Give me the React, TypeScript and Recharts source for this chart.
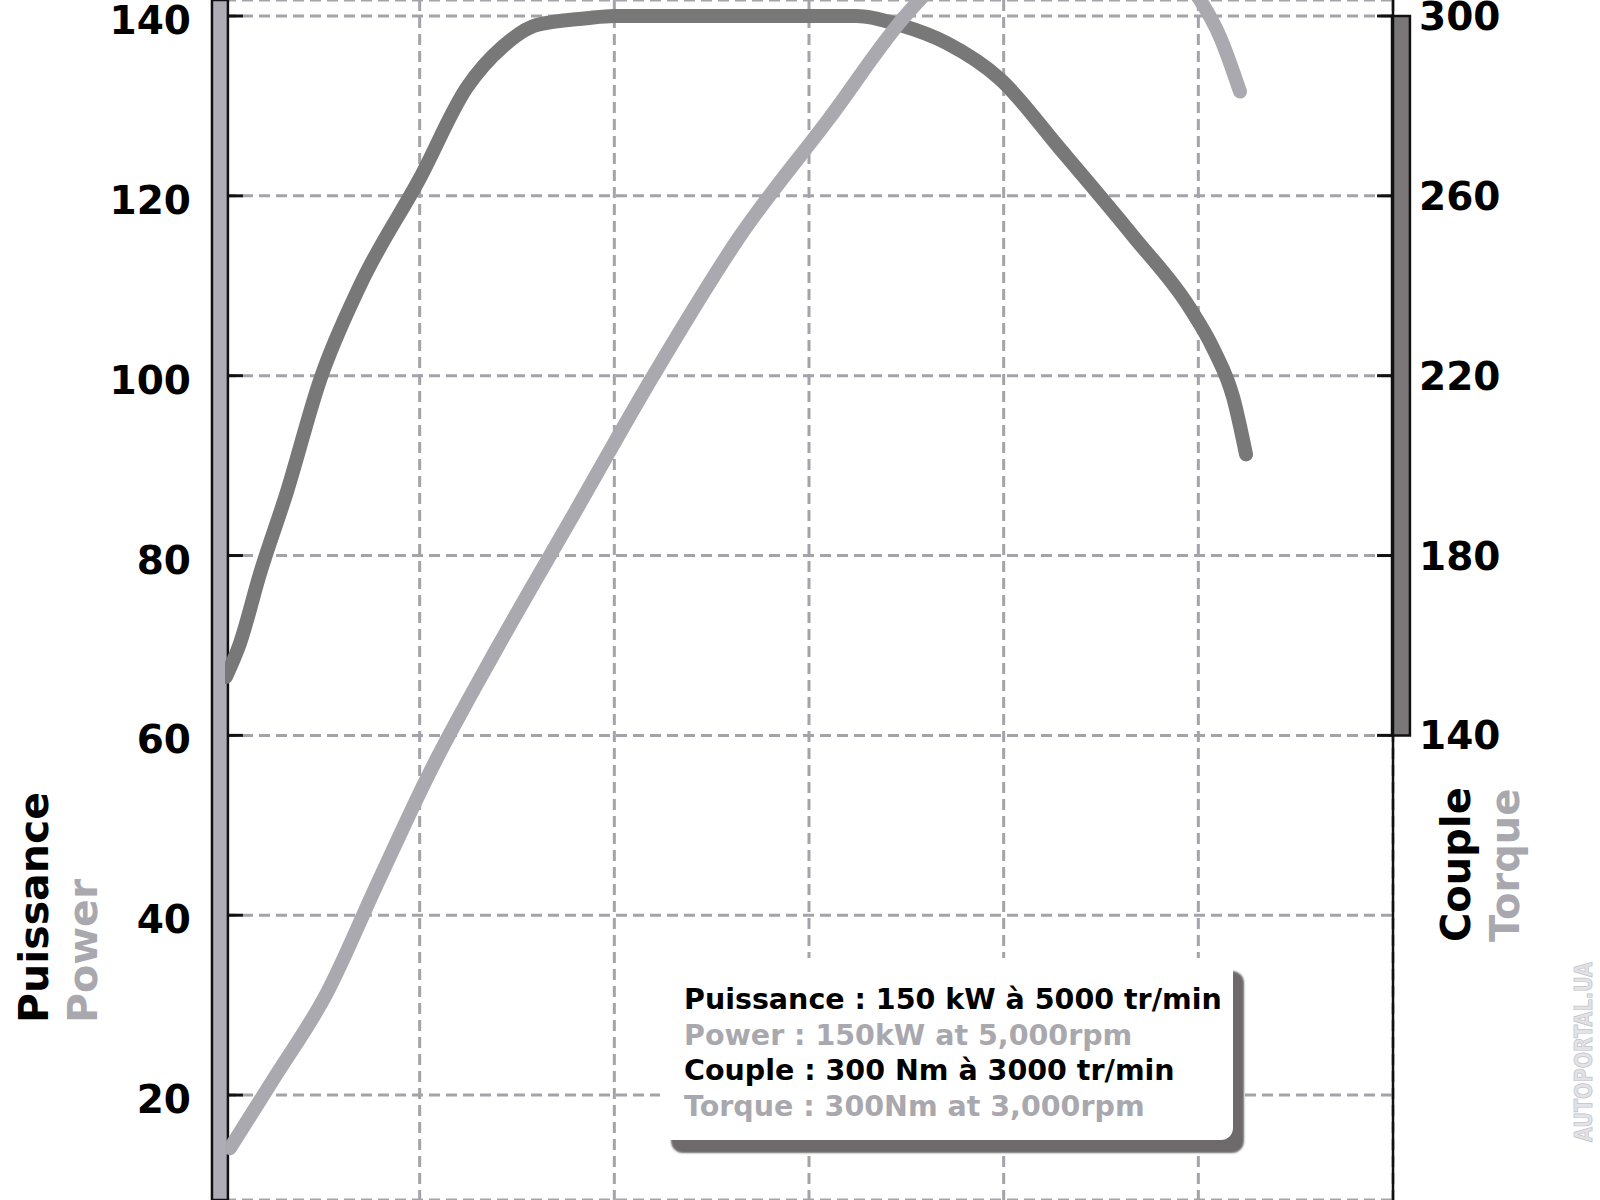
import React from "react";
import { LineChart, Line, XAxis, YAxis, CartesianGrid, ReferenceLine, ReferenceArea } from "recharts";

// engine speed axis (tr/min) and the two scales
const rpmTicks = [1000, 2000, 3000, 4000, 5000, 6000, 7000];
const powerTicks = [20, 40, 60, 80, 100, 120, 140];
const torqueTicks = [140, 180, 220, 260, 300];

// couple / torque curve (Nm), right axis
const torqueRpm = [1005, 1077, 1180, 1317, 1488, 1693, 2002, 2241, 2430, 2601, 2858, 3000, 3645, 4245, 4467, 4707, 4981, 5289, 5666, 5957, 6077, 6180, 6245];
const torqueNm = [153, 160.5, 176, 194, 219, 240, 264, 284, 293.3, 298, 299.5, 300, 300, 300, 298, 294, 286, 270.5, 251, 235, 226, 215, 202.5];

// puissance / power curve (kW), left axis
const powerRpm = [1026, 1250, 1522, 1780, 2036, 2400, 2800, 3200, 3645, 4100, 4502, 4800, 5000, 5250, 5500, 5750, 6008, 6111, 6214];
const powerKw = [14.1, 21.8, 31.3, 43.4, 55.2, 69.8, 84.9, 100, 115.5, 128.5, 140.2, 146.5, 149, 150, 149, 146.5, 141.8, 137.7, 131.6];

const legendLines = [
  { text: "Puissance : 150 kW à 5000 tr/min", color: "#000" },
  { text: "Power : 150kW at 5,000rpm", color: "#a8a8ae" },
  { text: "Couple : 300 Nm à 3000 tr/min", color: "#000" },
  { text: "Torque : 300Nm at 3,000rpm", color: "#a8a8ae" },
];

const torqueData = torqueRpm.map((rpm, i) => ({ rpm, torque: torqueNm[i] }));
const powerData = powerRpm.map((rpm, i) => ({ rpm, power: powerKw[i] }));

const FONT = "'DejaVu Sans', sans-serif";
const DARK = "#787878";
const LIGHT = "#a9a9af";
const GRID = "#a3a3a9";

const LeftTick = (props: any) => (
  <text x={191} y={props.y + 18} textAnchor="end" fontSize={39} fontWeight="bold" fontFamily={FONT} fill="#000">
    {props.payload.value}
  </text>
);

const RightTick = (props: any) => (
  <text x={1419} y={props.y + 14} textAnchor="start" fontSize={39} fontWeight="bold" fontFamily={FONT} fill="#000">
    {props.payload.value}
  </text>
);

export default function App() {
  return (
    <div style={{ position: "relative", width: 1600, height: 1200, background: "#fff", overflow: "hidden" }}>
      <style>{"body{margin:0}"}</style>
      <LineChart width={1600} height={1200} margin={{ top: 0, right: 87, bottom: 0, left: 125 }}>
        <CartesianGrid yAxisId="left" stroke={GRID} strokeWidth={3} strokeDasharray="11 6" />
        <XAxis type="number" dataKey="rpm" domain={[1000, 7000]} ticks={rpmTicks} allowDataOverflow hide />
        <YAxis
          yAxisId="left"
          domain={[8.33, 141.78]}
          ticks={powerTicks}
          allowDataOverflow
          width={100}
          axisLine={false}
          tickLine={false}
          tick={LeftTick}
        />
        <YAxis
          yAxisId="right"
          orientation="right"
          domain={[36.66, 303.56]}
          ticks={torqueTicks}
          allowDataOverflow
          width={120}
          axisLine={false}
          tickLine={false}
          tick={RightTick}
        />

        {/* axis tick marks */}
        {powerTicks.map((v) => (
          <ReferenceLine key={"lt" + v} yAxisId="left" segment={[{ x: 1015, y: v }, { x: 1092, y: v }]} stroke="#111" strokeWidth={3} />
        ))}
        {torqueTicks.map((v) => (
          <ReferenceLine key={"rt" + v} yAxisId="right" segment={[{ x: 6918, y: v }, { x: 6995, y: v }]} stroke="#111" strokeWidth={3} />
        ))}

        <Line data={torqueData} yAxisId="right" dataKey="torque" type="monotone" stroke={DARK} strokeWidth={14}
          strokeLinecap="round" strokeLinejoin="round" dot={false} activeDot={false} isAnimationActive={false} />
        <Line data={powerData} yAxisId="left" dataKey="power" type="monotone" stroke={LIGHT} strokeWidth={14}
          strokeLinecap="round" strokeLinejoin="round" dot={false} activeDot={false} isAnimationActive={false} />

        {/* axis bars */}
        <ReferenceArea yAxisId="left" x1={933} x2={1015} y1={8.33} y2={141.78} ifOverflow="visible"
          fill="#aeadb5" fillOpacity={1} stroke="#111" strokeWidth={2.5} />
        <ReferenceLine yAxisId="right" x={7000} stroke="#111" strokeWidth={2.5} />
        <ReferenceArea yAxisId="right" x1={6995} x2={7087} y1={140} y2={300} ifOverflow="visible"
          fill="#7b7779" fillOpacity={1} stroke="#111" strokeWidth={2.5} />
      </LineChart>

      <svg width={1600} height={1200} style={{ position: "absolute", left: 0, top: 0, pointerEvents: "none" }}>
        <g fontFamily={FONT} fontWeight="bold" fontSize={41}>
          <text transform="translate(48,1023) rotate(-90)" fill="#000">Puissance</text>
          <text transform="translate(97,1023) rotate(-90)" fill="#a8a8ae">Power</text>
          <text transform="translate(1470,942) rotate(-90)" fill="#000" fontSize={40}>Couple</text>
          <text transform="translate(1519,942) rotate(-90)" fill="#a8a8ae" fontSize={40}>Torque</text>
        </g>
        <text transform="translate(1592,1142) rotate(-90)" fontFamily="'DejaVu Sans Condensed', 'DejaVu Sans', sans-serif" fontWeight="bold"
          fontSize={25} textLength={180} lengthAdjust="spacingAndGlyphs" fill="#e3e3e7" stroke="#c4c4ca" strokeWidth={0.8}>
          AUTOPORTAL.UA
        </text>
      </svg>

      <div
        style={{
          position: "absolute",
          left: 660,
          top: 958,
          width: 573,
          height: 182,
          boxSizing: "border-box",
          padding: "24px 0 0 24px",
          background: "#fff",
          borderRadius: 12,
          boxShadow: "11px 13px 2px #6e6a6b",
          fontFamily: FONT,
          fontWeight: "bold",
          fontSize: 28.5,
          lineHeight: "35.5px",
        }}
      >
        {legendLines.map((l) => (
          <div key={l.text} style={{ color: l.color, whiteSpace: "nowrap" }}>{l.text}</div>
        ))}
      </div>
    </div>
  );
}
